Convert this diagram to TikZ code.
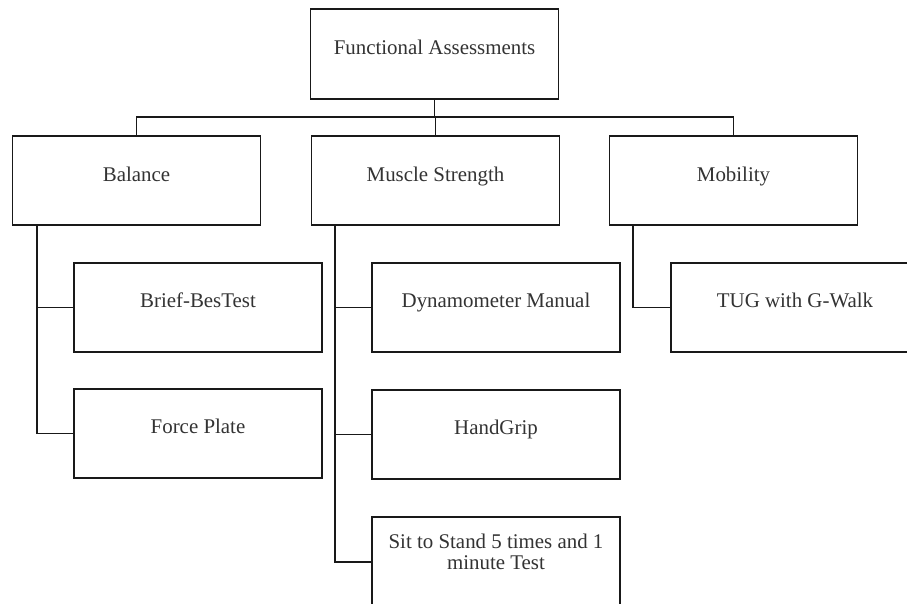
\documentclass[tikz,border=0pt]{standalone}
\usepackage{fontspec}
\setmainfont{Liberation Serif}
\begin{document}
\begin{tikzpicture}[x=0.5pt,y=-0.5pt,
  box/.style={draw=black!90, line width=0.95pt, rectangle, inner sep=0pt,
    minimum width=124pt, minimum height=44.5pt},
  lbl/.style={anchor=base, inner sep=0pt, text=black!80,
    font=\fontsize{10.45pt}{10.5pt}\selectfont, align=center},
  conn/.style={draw=black!90, line width=0.95pt}]
\useasboundingbox (0,0) rectangle (907,604);
\clip (0,0) rectangle (907,604);
\fill[white] (0,0) rectangle (907,604);
% boxes
\node[box, minimum height=45pt] (top) at (434.5,54) {};
\node[box] (bal) at (136.5,180.5) {};
\node[box] (mus) at (435.5,180.5) {};
\node[box] (mob) at (733.5,180.5) {};
\node[box] (brief) at (198,307.5) {};
\node[box] (force) at (198,433.5) {};
\node[box] (dyn) at (496,307.5) {};
\node[box] (hand) at (496,434.5) {};
\node[box] (sit) at (496,561.5) {};
\node[box] (tug) at (795,307.5) {};
% labels
\node[lbl] (topT) at ([yshift=-0.3pt]top.center) {Functional Assessments};
\node[lbl] (balT) at ([yshift=-0.7pt]bal.center) {Balance};
\node[lbl] (musT) at ([yshift=-0.7pt]mus.center) {Muscle Strength};
\node[lbl] (mobT) at ([yshift=-0.7pt]mob.center) {Mobility};
\node[lbl] (briefT) at ([yshift=0pt]brief.center) {Brief-BesTest};
\node[lbl] (forceT) at ([yshift=0pt]force.center) {Force Plate};
\node[lbl] (dynT) at ([yshift=0pt]dyn.center) {Dynamometer Manual};
\node[lbl] (handT) at ([yshift=0pt]hand.center) {HandGrip};
\node[lbl] (tugT) at ([yshift=0pt]tug.center) {TUG with G-Walk};
\node[lbl] (sitT) at ([yshift=-4.25pt]sit.center) {Sit to Stand 5 times and 1\\minute Test};
% connectors
\coordinate (bus) at (434.5,117);
\draw[conn] (top.south) -- (bus);
\draw[conn] (bal.north) |- (bus) -| (mob.north);
\draw[conn] (mus.north) -- (mus.north |- bus);
\coordinate (balsp) at ([xshift=12.5pt]bal.south west);
\coordinate (mussp) at ([xshift=12pt]mus.south west);
\coordinate (mobsp) at ([xshift=12pt]mob.south west);
\draw[conn] (balsp) |- (force.west);
\draw[conn] (brief.west) -- (brief.west -| balsp);
\draw[conn] (mussp) |- ([yshift=-0.25pt]sit.west);
\draw[conn] (dyn.west) -- (dyn.west -| mussp);
\draw[conn] (hand.west) -- (hand.west -| mussp);
\draw[conn] (mobsp) |- (tug.west);
\end{tikzpicture}
\end{document}
